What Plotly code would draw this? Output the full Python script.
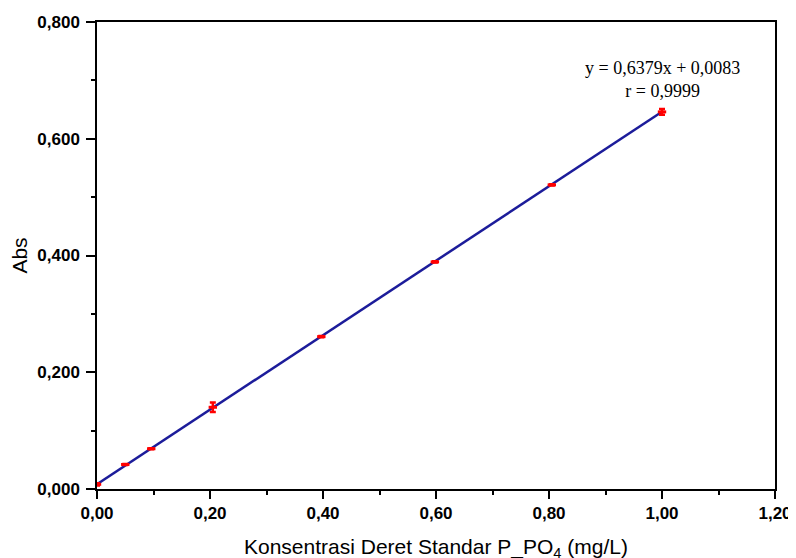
import plotly.graph_objects as go

conc = [0.00, 0.05, 0.096, 0.205, 0.397, 0.598, 0.805, 1.00]
absorb = [0.008, 0.042, 0.069, 0.140, 0.261, 0.389, 0.521, 0.646]
err = [0.002, 0.001, 0.001, 0.008, 0.001, 0.001, 0.001, 0.005]
slope = 0.6379
intercept = 0.0083
fit_x = [0.0, 1.0]
fit_y = [intercept + slope * v for v in fit_x]

fig = go.Figure()
fig.add_trace(go.Scatter(x=fit_x, y=fit_y, mode="lines",
                         line=dict(color="#1c1c9a", width=2.5), showlegend=False))
fig.add_trace(go.Scatter(x=conc, y=absorb, mode="markers",
                         marker=dict(symbol="line-ew", size=6, color="red",
                                     line=dict(color="red", width=3)),
                         error_y=dict(type="data", array=err, color="red",
                                      thickness=2.5, width=3),
                         showlegend=False))

tickfont = dict(family="Liberation Sans", size=17, color="black", weight="bold")
fig.update_layout(
    width=796, height=558,
    margin=dict(l=89, r=29, t=14, b=77),
    plot_bgcolor="white", paper_bgcolor="white",
    separators=",.",
    xaxis=dict(range=[0, 1.2], tickvals=[0, 0.2, 0.4, 0.6, 0.8, 1.0, 1.2],
               tickformat=".2f", ticks="outside", ticklen=8, tickwidth=1.5,
               tickcolor="black", showline=True, linecolor="black", linewidth=1.5,
               mirror=True, showgrid=False, zeroline=False, tickfont=tickfont,
               automargin=False,
               minor=dict(dtick=0.1, ticks="outside", ticklen=4, tickcolor="black", tickwidth=1.5),
               title=dict(text="Konsentrasi Deret Standar P_PO<sub>4</sub> (mg/L)",
                          font=dict(family="Liberation Sans", size=21, color="black"),
                          standoff=17)),
    yaxis=dict(range=[0, 0.8], tickvals=[0, 0.2, 0.4, 0.6, 0.8],
               tickformat=".3f", ticks="outside", ticklen=9, tickwidth=1.5,
               tickcolor="black", showline=True, linecolor="black", linewidth=1.5,
               mirror=True, showgrid=False, zeroline=False, tickfont=tickfont,
               automargin=False, ticklabelstandoff=3,
               minor=dict(dtick=0.1, ticks="outside", ticklen=4, tickcolor="black", tickwidth=1.5),
               title=dict(text="Abs", font=dict(family="Liberation Sans", size=21, color="black"),
                          standoff=16)),
    annotations=[dict(x=1.0, y=0.702, xref="x", yref="y", showarrow=False,
                      text="y = 0,6379x + 0,0083<br>r = 0,9999", align="center",
                      font=dict(family="Liberation Serif", size=18, color="black"))],
)
fig.write_html("out.html")
